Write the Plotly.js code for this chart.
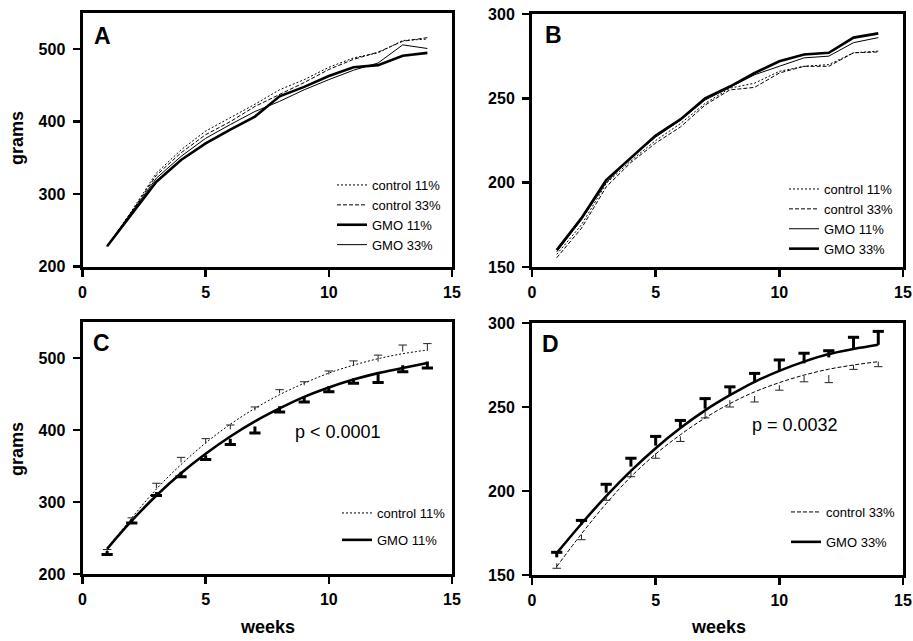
<!DOCTYPE html>
<html>
<head>
<meta charset="utf-8">
<script src="https://cdn.plot.ly/plotly-3.0.1.min.js"></script>
<style>html,body{margin:0;padding:0;background:#fff}#chart{width:913px;height:641px}</style>
</head>
<body>
<div id="chart"></div>
<script>
// ---------- data ----------
var weeks = [1,2,3,4,5,6,7,8,9,10,11,12,13,14];

// Panel A (rats, grams)
var A_control11 = [228, 277, 329, 361, 387, 405, 424, 444, 458, 475, 488, 495, 512, 514];
var A_control33 = [228, 276, 326, 357, 382, 400, 421, 437, 454, 472, 486, 496, 511, 516];
var A_gmo11     = [228, 273, 317, 347, 370, 389, 407, 435, 448, 463, 475, 478, 491, 495];
var A_gmo33     = [228, 275, 322, 352, 377, 396, 414, 428, 444, 458, 471, 481, 506, 501];

// Panel B
var B_control11 = [157.5, 175, 199.5, 213, 225, 235, 247, 256, 259, 266, 269, 270, 277, 278];
var B_control33 = [155.5, 173, 197.5, 212, 223.5, 233, 246, 255, 256.5, 265, 269, 269, 277, 277.5];
var B_gmo11     = [159, 178, 200, 215, 227, 237, 249, 256.5, 264, 269, 274, 275, 283, 286];
var B_gmo33     = [160, 179, 201.5, 215, 228, 237.5, 250, 257, 265, 272, 276, 277, 286, 288.5];

// Panel C: fitted curves, means and error
var C_control11_fit = [235, 278, 318, 352, 382, 408, 430, 449, 465, 479, 490, 499, 506, 511];
var C_gmo11_fit     = [235, 274, 309, 340, 367, 391, 412, 430, 446, 459, 470, 479, 486, 493];
var C_control11_mean = [231, 275, 319, 355, 381, 401, 427, 451, 462, 477, 489, 495, 509, 510];
var C_control11_err  = [3, 3, 7, 7, 7, 6, 5, 5, 5, 5, 7, 9, 9, 10];
var C_gmo11_mean = [232, 276, 314, 342, 365, 388, 405, 433, 447, 461, 472, 479, 490, 495];
var C_gmo11_err  = [5, 5, 5, 7, 6, 8, 9, 8, 8, 8, 7, 13, 9, 9];

// Panel D
var D_control33_fit = [155, 174.5, 192.5, 208.5, 222, 233.5, 243.5, 252, 259, 264.5, 269, 272.5, 275, 277];
var D_gmo33_fit     = [163, 180.5, 197, 212, 225.5, 237.5, 248, 257, 265, 271.5, 277, 281.5, 284.5, 287];
var D_control33_mean = [157, 174, 197.5, 211.5, 222.5, 232.5, 247, 254, 256.5, 263, 268.5, 269, 275, 277];
var D_control33_err  = [3, 3, 3, 3, 3, 3, 3.5, 4, 3.5, 3, 3.5, 4.5, 2.6, 3];
var D_gmo33_mean = [160.5, 180, 199, 214.5, 227, 238, 249, 257, 264.5, 271, 276, 279.5, 285, 287];
var D_gmo33_err  = [3, 2.5, 5, 5, 5.5, 4, 6, 5, 5.5, 7, 6, 4, 6.5, 8];

var xTicks = [0, 5, 10, 15];
var labels = {c11: 'control 11%', c33: 'control 33%', g11: 'GMO 11%', g33: 'GMO 33%'};

// ---------- styles ----------
var FONT = 'Liberation Sans, Arial, Helvetica, sans-serif';
var DOT = '2px,2px', DASH = '4px,2px';
var THIN = 1, THICK = 2.6;

function line(x, y, name, dash, width, xa, ya, lg) {
  return {x: x, y: y, name: name, type: 'scatter', mode: 'lines',
    line: {color: 'black', width: width, dash: dash},
    xaxis: xa, yaxis: ya, legend: lg, legendgroup: lg + name, hoverinfo: 'skip'};
}
function zeros(n) { var a = []; for (var i = 0; i < n; i++) a.push(0); return a; }
function errTraces(x, mean, err, up, thick, xa, ya) {
  var caps = mean.map(function (m, i) { return up ? m + err[i] : m - err[i]; });
  var stems = {x: x, y: mean, type: 'scatter', mode: 'markers', showlegend: false,
    marker: {size: 1, color: 'rgba(0,0,0,0)'}, xaxis: xa, yaxis: ya, hoverinfo: 'skip',
    error_y: {type: 'data', symmetric: false,
      array: up ? err : zeros(err.length), arrayminus: up ? zeros(err.length) : err,
      width: 0, thickness: thick ? 3 : 1, color: thick ? 'black' : '#222'}};
  var capTr = {x: x, y: caps, type: 'scatter', mode: 'markers', showlegend: false,
    marker: {symbol: 'line-ew', size: thick ? 8 : 6, color: 'black',
      line: {width: thick ? 3 : 1, color: thick ? 'black' : '#222'}},
    xaxis: xa, yaxis: ya, hoverinfo: 'skip'};
  return [stems, capTr];
}

var traces = [];
// A
traces.push(line(weeks, A_control11, labels.c11, DOT, THIN, 'x', 'y', 'legend'));
traces.push(line(weeks, A_control33, labels.c33, DASH, THIN, 'x', 'y', 'legend'));
traces.push(line(weeks, A_gmo11, labels.g11, 'solid', THICK, 'x', 'y', 'legend'));
traces.push(line(weeks, A_gmo33, labels.g33, 'solid', THIN, 'x', 'y', 'legend'));
// B
traces.push(line(weeks, B_control11, labels.c11, DOT, THIN, 'x2', 'y2', 'legend2'));
traces.push(line(weeks, B_control33, labels.c33, DASH, THIN, 'x2', 'y2', 'legend2'));
traces.push(line(weeks, B_gmo11, labels.g11, 'solid', THIN, 'x2', 'y2', 'legend2'));
traces.push(line(weeks, B_gmo33, labels.g33, 'solid', THICK, 'x2', 'y2', 'legend2'));
// C
var c1 = line(weeks, C_control11_fit, labels.c11, DOT, THIN, 'x3', 'y3', 'legend3'); c1.line.shape = 'spline';
var c2 = line(weeks, C_gmo11_fit, labels.g11, 'solid', THICK, 'x3', 'y3', 'legend3'); c2.line.shape = 'spline';
traces.push(c1, c2);
traces = traces.concat(errTraces(weeks, C_control11_mean, C_control11_err, true, false, 'x3', 'y3'));
traces = traces.concat(errTraces(weeks, C_gmo11_mean, C_gmo11_err, false, true, 'x3', 'y3'));
// D
var d1 = line(weeks, D_control33_fit, labels.c33, DASH, THIN, 'x4', 'y4', 'legend4'); d1.line.shape = 'spline';
var d2 = line(weeks, D_gmo33_fit, labels.g33, 'solid', THICK, 'x4', 'y4', 'legend4'); d2.line.shape = 'spline';
traces.push(d1, d2);
traces = traces.concat(errTraces(weeks, D_control33_mean, D_control33_err, false, false, 'x4', 'y4'));
traces = traces.concat(errTraces(weeks, D_gmo33_mean, D_gmo33_err, true, true, 'x4', 'y4'));

// ---------- layout ----------
var W = 913, H = 641;
function px(x) { return x / W; }
function py(y) { return 1 - y / H; }

function xAxis(domain, anchor) {
  return {domain: domain, anchor: anchor, range: [0, 15], tickvals: xTicks, ticktext: xTicks.map(String),
    showline: true, mirror: true, linewidth: 3, linecolor: 'black', ticks: 'outside', ticklen: 7,
    tickwidth: 2.5, tickcolor: 'black', showgrid: false, zeroline: false, ticklabelstandoff: 2,
    tickfont: {family: FONT, size: 16, weight: 'bold', color: 'black'}};
}
function yAxis(domain, anchor, range, dtick) {
  return {domain: domain, anchor: anchor, range: range, dtick: dtick, tick0: range[0],
    showline: true, mirror: true, linewidth: 3, linecolor: 'black', ticks: 'outside', ticklen: 7,
    tickwidth: 2.5, tickcolor: 'black', showgrid: false, zeroline: false, ticklabelstandoff: 4,
    tickfont: {family: FONT, size: 16, weight: 'bold', color: 'black'}};
}
var xL = [px(82.5), px(452)], xR = [px(532), px(903)];

function legendAt(x, y, gap) {
  return {x: px(x), y: py(y), xref: 'paper', yref: 'paper', xanchor: 'left', yanchor: 'top',
    bgcolor: 'rgba(0,0,0,0)', borderwidth: 0, traceorder: 'grouped', tracegroupgap: gap || 0,
    itemwidth: 30, font: {family: FONT, size: 13, color: 'black'}};
}
function ann(text, x, y, size, bold, angle) {
  return {text: text, x: px(x), y: py(y), xref: 'paper', yref: 'paper', showarrow: false,
    xanchor: 'center', yanchor: 'middle', textangle: angle || 0,
    font: {family: FONT, size: size, color: 'black', weight: bold ? 'bold' : 'normal'}};
}

var layout = {
  width: W, height: H, margin: {l: 0, r: 0, t: 0, b: 0},
  paper_bgcolor: 'white', plot_bgcolor: 'white', showlegend: true,
  xaxis: xAxis(xL, 'y'), yaxis: yAxis([py(266.5), py(13)], 'x', [200, 550], 100),
  xaxis2: xAxis(xR, 'y2'), yaxis2: yAxis([py(267), py(14)], 'x2', [150, 300], 50),
  xaxis3: xAxis(xL, 'y3'), yaxis3: yAxis([py(574), py(322)], 'x3', [200, 550], 100),
  xaxis4: xAxis(xR, 'y4'), yaxis4: yAxis([py(575), py(323)], 'x4', [150, 300], 50),
  legend: legendAt(332, 170, 0),
  legend2: legendAt(784, 174, 0),
  legend3: legendAt(337, 498, 7),
  legend4: legendAt(786, 497, 10),
  annotations: [
    ann('A', 102, 36, 23, true), ann('B', 553, 35, 23, true),
    ann('C', 101, 343, 23, true), ann('D', 550, 344, 23, true),
    ann('grams', 17, 138, 18, true, -90), ann('grams', 17, 449, 18, true, -90),
    ann('weeks', 267, 627, 18, true), ann('weeks', 718, 627, 18, true),
    ann('p < 0.0001', 338, 432, 18, false), ann('p = 0.0032', 795, 425, 18, false)
  ]
};

Plotly.newPlot('chart', traces, layout, {staticPlot: true, displayModeBar: false});
</script>
</body>
</html>
